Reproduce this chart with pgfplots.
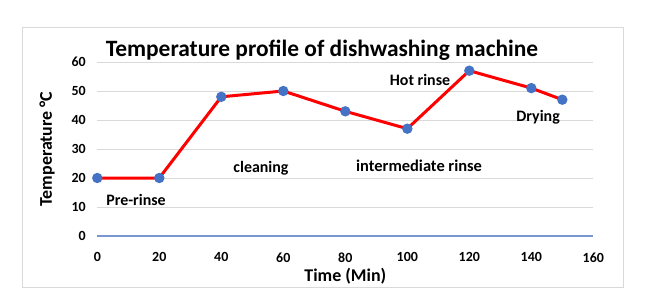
\documentclass[border=0pt]{standalone}
\usepackage{fontspec}
\setmainfont{Carlito}
\usepackage{pgfplots}
\pgfplotsset{compat=1.18}
\definecolor{gridgrey}{RGB}{217,217,217}
\definecolor{axisblue}{RGB}{120,150,210}
\definecolor{markblue}{RGB}{68,114,196}
\definecolor{linered}{RGB}{255,0,0}
\begin{document}
\begin{tikzpicture}[x=1bp,y=1bp]
\useasboundingbox (0,0) rectangle (659,301);
\draw[gridgrey, line width=1bp] (22,14) rectangle (623,274);
\node[font=\fontsize{23.5}{26}\selectfont\bfseries] at (322,251) {Temperature profile of dishwashing machine};
\begin{axis}[
  at={(97.3bp,65bp)}, anchor=origin,
  scale only axis, width=496bp, height=174bp,
  xmin=0, xmax=160, ymin=0, ymax=60,
  xtick={0,20,...,160}, ytick={10,20,...,60},
  extra y ticks={0},
  extra y tick style={grid style={draw=axisblue, line width=1.2bp}},
  ymajorgrids, grid style={draw=gridgrey, line width=0.8bp},
  axis line style={draw=none}, tick style={draw=none},
  /pgf/number format/assume math mode=true,
  ticklabel style={font=\fontsize{14}{16}\selectfont\bfseries},
  xticklabel style={yshift=-13bp},
  yticklabel style={xshift=-8bp},
  xlabel={Time (Min)}, ylabel={Temperature °C},
  label style={font=\fontsize{18}{20}\selectfont\bfseries},
  xlabel style={yshift=1bp},
  ylabel style={yshift=10bp},
  clip=false,
]
\addplot[linered, line width=3bp, mark=*, mark size=3.6bp, mark options={draw=markblue, fill=markblue}]
  coordinates {(0,20) (20,20) (40,48) (60,50) (80,43) (100,37) (120,57) (140,51) (150,47)};
\node[font=\fontsize{16}{18}\selectfont\bfseries] at (axis cs:12.5,12.4) {Pre-rinse};
\node[font=\fontsize{16}{18}\selectfont\bfseries] at (axis cs:52.8,23.4) {cleaning};
\node[font=\fontsize{16.5}{18}\selectfont\bfseries] at (axis cs:103.8,24.1) {intermediate rinse};
\node[font=\fontsize{16}{18}\selectfont\bfseries] at (axis cs:104.1,53.8) {Hot rinse};
\node[font=\fontsize{16}{18}\selectfont\bfseries] at (axis cs:142.2,41.0) {Drying};
\end{axis}
\end{tikzpicture}
\end{document}
